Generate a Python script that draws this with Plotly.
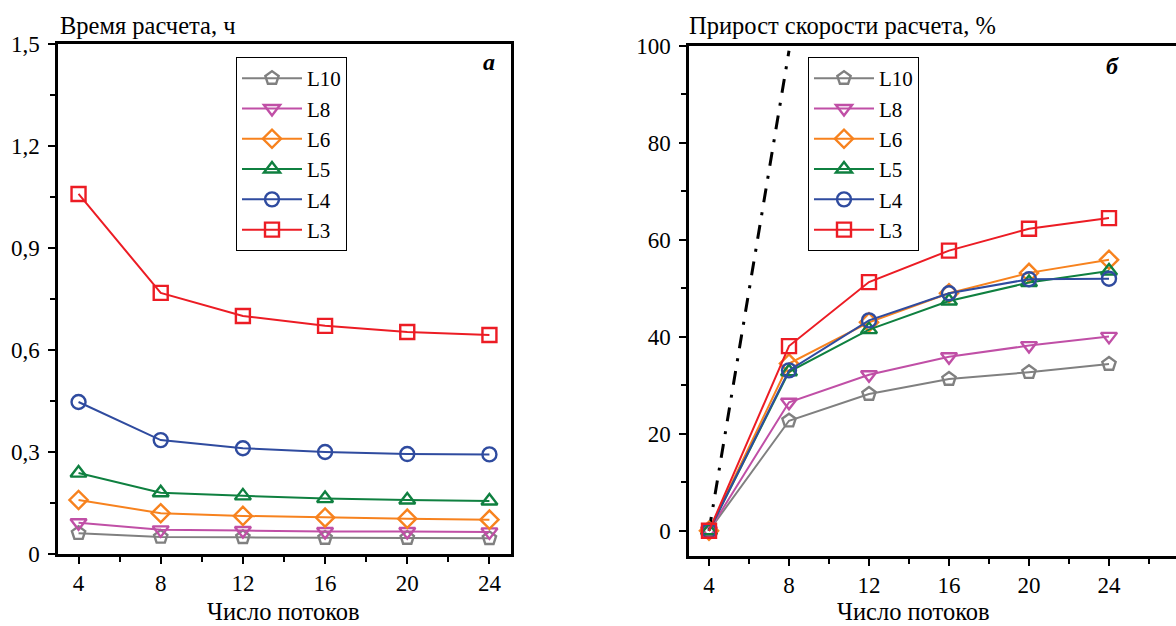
import plotly.graph_objects as go

threads = [4, 8, 12, 16, 20, 24]
series_names = ["L10", "L8", "L6", "L5", "L4", "L3"]

# Panel a: calculation time, hours
time_L10 = [0.061, 0.050, 0.049, 0.047, 0.047, 0.046]
time_L8 = [0.092, 0.071, 0.069, 0.066, 0.066, 0.065]
time_L6 = [0.159, 0.120, 0.112, 0.107, 0.104, 0.101]
time_L5 = [0.238, 0.180, 0.171, 0.163, 0.159, 0.156]
time_L4 = [0.447, 0.335, 0.311, 0.300, 0.294, 0.293]
time_L3 = [1.059, 0.768, 0.700, 0.671, 0.653, 0.644]

# Panel b: speed gain, %
gain_L10 = [0, 22.7, 28.2, 31.3, 32.7, 34.4]
gain_L8 = [0, 26.5, 32.2, 35.9, 38.2, 40.1]
gain_L6 = [0, 34.5, 43.0, 49.0, 53.2, 55.9]
gain_L5 = [0, 32.8, 41.5, 47.4, 51.2, 53.6]
gain_L4 = [0, 33.1, 43.4, 49.0, 51.9, 52.0]
gain_L3 = [0, 38.1, 51.3, 57.8, 62.3, 64.5]

ideal_x = [4, 8]
ideal_y = [0, 99]

y_ticks_a = [0, 0.3, 0.6, 0.9, 1.2, 1.5]
y_ticktext_a = ["0", "0,3", "0,6", "0,9", "1,2", "1,5"]
y_ticks_b = [0, 20, 40, 60, 80, 100]

times = [time_L10, time_L8, time_L6, time_L5, time_L4, time_L3]
gains = [gain_L10, gain_L8, gain_L6, gain_L5, gain_L4, gain_L3]
colors = ["#808080", "#c04fa6", "#f7821e", "#0f8040", "#2f4b9f", "#ec1c24"]
symbols = ["pentagon-open", "triangle-down-open", "diamond-open",
           "triangle-up-open", "circle-open", "square-open"]

FONT = "Liberation Serif, Times New Roman, serif"

fig = go.Figure()
for name, t, c, s in zip(series_names, times, colors, symbols):
    fig.add_trace(go.Scatter(
        x=threads, y=t, name=name, mode="lines+markers",
        line=dict(color=c, width=2),
        marker=dict(symbol=s, size=14, color=c, line=dict(color=c, width=2.4)),
        xaxis="x", yaxis="y", legend="legend"))

fig.add_trace(go.Scatter(
    x=ideal_x, y=ideal_y, mode="lines", showlegend=False,
    line=dict(color="black", width=3, dash="14px,10px,3px,10px"),
    xaxis="x2", yaxis="y2"))

for name, g, c, s in zip(series_names, gains, colors, symbols):
    fig.add_trace(go.Scatter(
        x=threads, y=g, name=name, mode="lines+markers",
        line=dict(color=c, width=2),
        marker=dict(symbol=s, size=14, color=c, line=dict(color=c, width=2.4)),
        xaxis="x2", yaxis="y2", legend="legend2"))

W, H = 1176, 626

def px(x):
    return x / W

def py(y):
    return 1 - y / H

axis_common = dict(
    showgrid=False, zeroline=False, showline=True, linecolor="black",
    linewidth=2.5, ticks="outside", ticklen=7, tickwidth=2, tickcolor="black",
    tickfont=dict(family=FONT, size=23, color="black"), automargin=False,
)
minor_common = dict(ticks="outside", ticklen=5, tickwidth=2, tickcolor="black")

legend_common = dict(xanchor="left", yanchor="top",
                     bordercolor="black", borderwidth=1, bgcolor="white",
                     font=dict(family=FONT, size=21, color="black"),
                     traceorder="normal", tracegroupgap=0, itemwidth=60)

fig.update_layout(
    width=W, height=H,
    margin=dict(l=0, r=0, t=0, b=0, autoexpand=False),
    paper_bgcolor="white", plot_bgcolor="white",
    font=dict(family=FONT, size=22, color="black"),
    xaxis=dict(domain=[px(58), px(511)], range=[3.0, 25.05], anchor="y",
               tickvals=threads, mirror=True,
               minor=dict(dtick=2, tick0=0, **minor_common),
               **axis_common),
    yaxis=dict(domain=[py(554), py(44)], range=[0, 1.5], anchor="x",
               tickvals=y_ticks_a, ticktext=y_ticktext_a, mirror=True,
               minor=dict(dtick=0.15, tick0=0, **minor_common),
               ticklabelstandoff=4,
               **axis_common),
    xaxis2=dict(domain=[px(689), 1.0], range=[3.0, 27.35], anchor="y2",
                tickvals=threads, mirror=True,
                minor=dict(dtick=2, tick0=0, **minor_common),
                **axis_common),
    yaxis2=dict(domain=[py(556), py(46)], range=[-5.2, 100], anchor="x2",
                tickvals=y_ticks_b, mirror=False,
                minor=dict(dtick=10, tick0=0, **minor_common),
                ticklabelstandoff=4,
                **axis_common),
    legend=dict(x=px(236), y=py(57), **legend_common),
    legend2=dict(x=px(808), y=py(57), **legend_common),
    annotations=[
        dict(text="Время расчета, ч", x=px(58), y=py(25), xref="paper", yref="paper",
             xanchor="left", yanchor="middle", showarrow=False,
             font=dict(family=FONT, size=24.5, color="black")),
        dict(text="Прирост скорости расчета, %", x=px(687), y=py(25), xref="paper", yref="paper",
             xanchor="left", yanchor="middle", showarrow=False,
             font=dict(family=FONT, size=24.5, color="black")),
        dict(text="Число потоков", x=px(283), y=py(611), xref="paper", yref="paper",
             xanchor="center", yanchor="middle", showarrow=False,
             font=dict(family=FONT, size=24.5, color="black")),
        dict(text="Число потоков", x=px(913), y=py(611), xref="paper", yref="paper",
             xanchor="center", yanchor="middle", showarrow=False,
             font=dict(family=FONT, size=24.5, color="black")),
        dict(text="<b><i>a</i></b>", x=px(497), y=py(62), xref="paper", yref="paper",
             xanchor="right", yanchor="middle", showarrow=False,
             font=dict(family=FONT, size=24, color="black")),
        dict(text="<b><i>б</i></b>", x=px(1121), y=py(66), xref="paper", yref="paper",
             xanchor="right", yanchor="middle", showarrow=False,
             font=dict(family=FONT, size=24, color="black")),
    ],
)

fig.write_html("out.html", config={"displayModeBar": False},
               post_script="document.body.style.margin='0';document.body.style.overflow='hidden';")
